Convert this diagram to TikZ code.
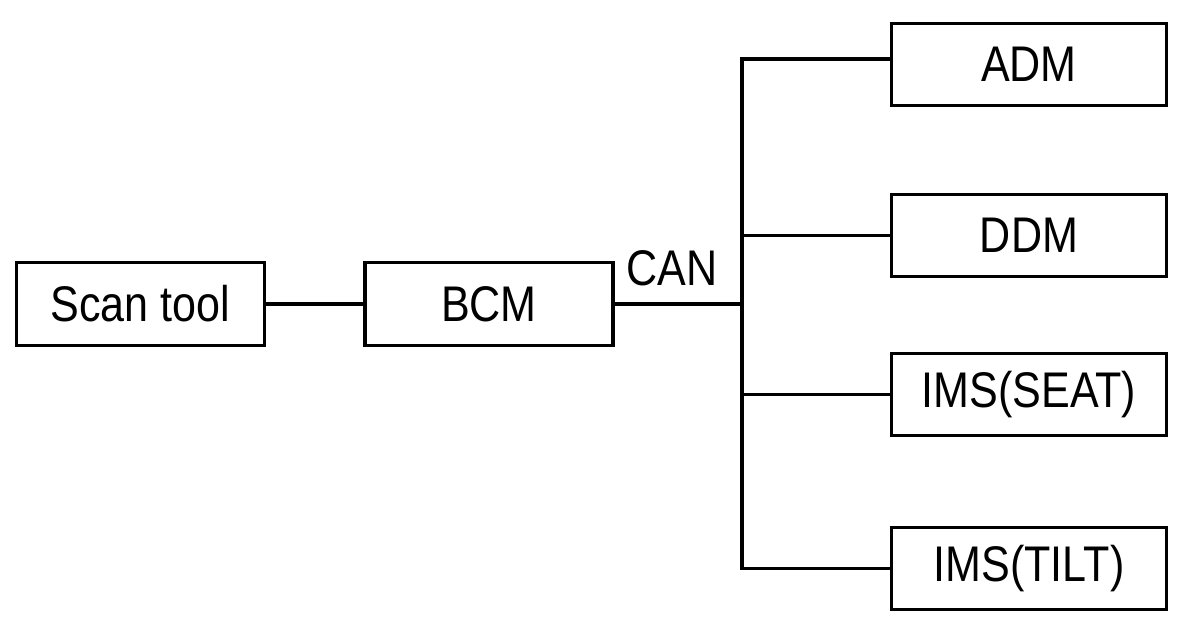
\documentclass[tikz,border=0pt]{standalone}
\usepackage{fontspec}
\setmainfont{Liberation Sans}[FakeStretch=0.86]
\begin{document}
\begin{tikzpicture}[line width=0.065cm,
    module/.style={draw, rectangle, minimum width=4.96cm, minimum height=1.66cm,
      font=\fontsize{28.5}{32}\selectfont},
    ecu/.style={module, minimum width=5.50cm, minimum height=1.64cm}]
      \useasboundingbox (0,0) rectangle (24,-12.64);
      \node[module] (scan) at (2.81,-6.08) {Scan tool};
      \node[module] (bcm) at (9.78,-6.08) {BCM};
      \node[ecu] (adm) at (20.58,-1.29) {ADM};
      \node[ecu] (ddm) at (20.58,-4.71) {DDM};
      \node[ecu] (seat) at (20.58,-7.89) {IMS(SEAT)};
      \node[ecu] (tilt) at (20.58,-11.37) {IMS(TILT)};
      \node[font=\fontsize{28.5}{32}\selectfont] (can) at (13.44,-5.36) {CAN};
      \coordinate (bus) at (14.84,0);
      \begin{scope}[-]
        \draw (scan) to (bcm);
        \draw (bcm.east) to (bcm.east -| bus);
        \draw ([yshift=0.11cm]adm.west) -- ([yshift=0.11cm]adm.west -| bus)
          -- (tilt.west -| bus) -- (tilt.west);
        \draw (ddm.west) to (ddm.west -| bus);
        \draw (seat.west) to (seat.west -| bus);
      \end{scope}
    \end{tikzpicture}
\end{document}
